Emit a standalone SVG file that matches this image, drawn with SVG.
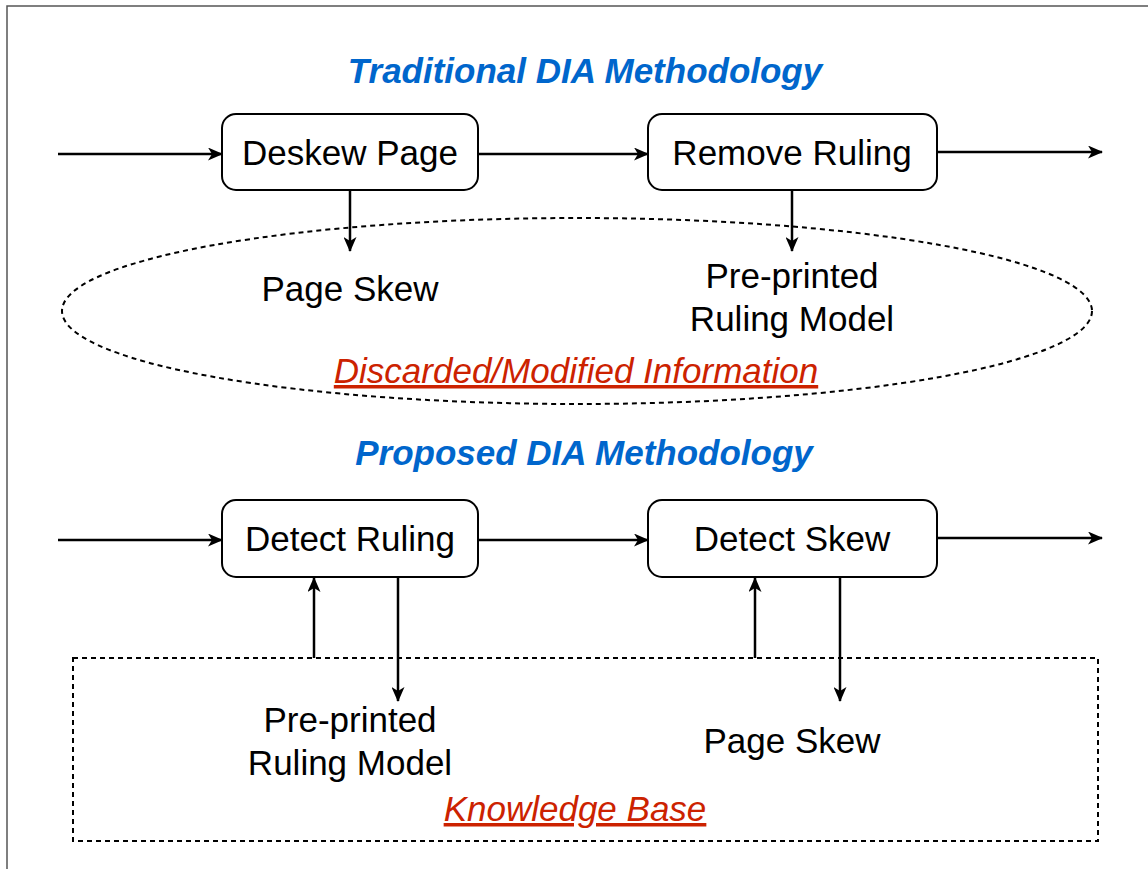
<svg xmlns="http://www.w3.org/2000/svg" width="1148" height="869" viewBox="0 0 1148 869">
<defs>
<marker id="ah" viewBox="0 0 15 13" refX="14" refY="6.5" markerWidth="15" markerHeight="13" markerUnits="userSpaceOnUse" orient="auto">
<path d="M0,0 L15,6.5 L0,13 L4,6.5 Z" fill="#000"/>
</marker>
</defs>
<style>
.box{fill:#fff;stroke:#000;stroke-width:2}
.lbl{font-family:"Liberation Sans",Arial,sans-serif;font-size:35px;fill:#000;text-anchor:middle}
.title{font-family:"Liberation Sans",Arial,sans-serif;font-size:35px;font-weight:bold;font-style:italic;fill:#0066CC;text-anchor:middle}
.red{font-family:"Liberation Sans",Arial,sans-serif;font-size:35px;font-style:italic;fill:#CC2200;text-anchor:middle;text-decoration:underline}
.edge{stroke:#000;stroke-width:2.5;fill:none;marker-end:url(#ah)}
.dash{fill:none;stroke:#000;stroke-width:2;stroke-dasharray:5 4}
</style>
<rect width="1148" height="869" fill="#fff"/>
<path d="M7,869 V6 H1148" fill="none" stroke="#555" stroke-width="1.5"/>
<g id="title-traditional"><text class="title" x="585" y="83">Traditional DIA Methodology</text></g>
<g id="title-proposed"><text class="title" x="584" y="465">Proposed DIA Methodology</text></g>
<g id="discarded">
<ellipse class="dash" cx="577" cy="311" rx="515" ry="93"/>
<text class="red" x="576" y="383">Discarded/Modified Information</text>
</g>
<g id="knowledge-base">
<rect class="dash" x="73" y="658" width="1025" height="183"/>
<text class="red" x="575" y="821">Knowledge Base</text>
</g>
<g id="deskew-page"><rect class="box" x="222" y="114" width="256" height="76" rx="14"/><text class="lbl" x="350" y="165">Deskew Page</text></g>
<g id="remove-ruling"><rect class="box" x="648" y="114" width="289" height="76" rx="14"/><text class="lbl" x="792" y="165">Remove Ruling</text></g>
<g id="page-skew-1"><text class="lbl" x="350" y="301">Page Skew</text></g>
<g id="ruling-model-1"><text class="lbl" x="792" y="288">Pre-printed</text><text class="lbl" x="792" y="331">Ruling Model</text></g>
<g id="detect-ruling"><rect class="box" x="222" y="500" width="256" height="77" rx="14"/><text class="lbl" x="350" y="551">Detect Ruling</text></g>
<g id="detect-skew"><rect class="box" x="648" y="500" width="289" height="77" rx="14"/><text class="lbl" x="792" y="551">Detect Skew</text></g>
<g id="ruling-model-2"><text class="lbl" x="350" y="732">Pre-printed</text><text class="lbl" x="350" y="775">Ruling Model</text></g>
<g id="page-skew-2"><text class="lbl" x="792" y="753">Page Skew</text></g>
<g id="connectors">
<line class="edge" x1="58" y1="154" x2="222" y2="154"/>
<line class="edge" x1="478" y1="154" x2="648" y2="154"/>
<line class="edge" x1="937" y1="152" x2="1102" y2="152"/>
<line class="edge" x1="350" y1="190" x2="350" y2="251"/>
<line class="edge" x1="792" y1="190" x2="792" y2="251"/>
<line class="edge" x1="58" y1="540" x2="222" y2="540"/>
<line class="edge" x1="478" y1="540" x2="648" y2="540"/>
<line class="edge" x1="937" y1="538" x2="1102" y2="538"/>
<line class="edge" x1="314" y1="658" x2="314" y2="578"/>
<line class="edge" x1="398" y1="578" x2="398" y2="701"/>
<line class="edge" x1="755" y1="658" x2="755" y2="578"/>
<line class="edge" x1="840" y1="578" x2="840" y2="701"/>
</g>
</svg>
